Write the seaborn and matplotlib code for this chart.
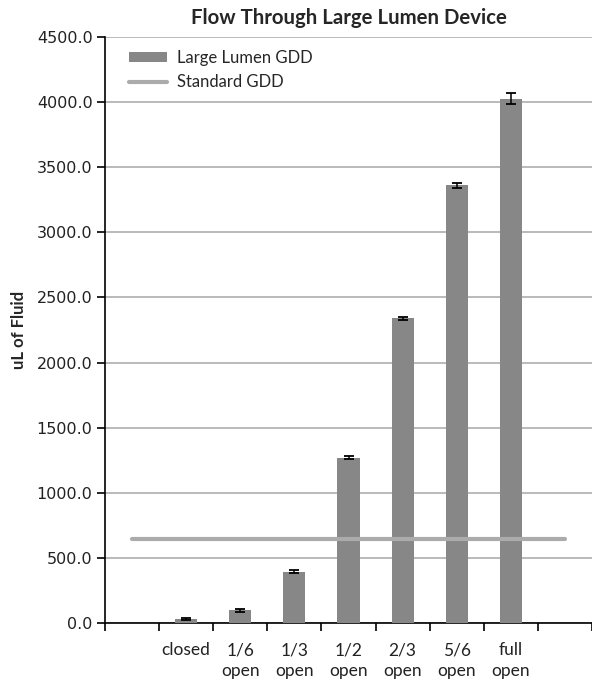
import numpy as np
import pandas as pd
import matplotlib
matplotlib.use("Agg")
import matplotlib.pyplot as plt
import seaborn as sns
from matplotlib.ticker import FixedLocator, MultipleLocator

OUTPUT_PATH = "out.png"

CATEGORIES = ["closed", "1/6\nopen", "1/3\nopen", "1/2\nopen",
              "2/3\nopen", "5/6\nopen", "full\nopen"]
# blank slots before and after the bars, as in the original sheet
ORDER = [" "] + CATEGORIES + ["  "]
LARGE_LUMEN = [28, 97, 395, 1270, 2340, 3360, 4025]
LARGE_LUMEN_ERR = [8, 10, 10, 10, 10, 20, 42]
STANDARD_GDD = 645

BAR_COLOR = "#878787"
LINE_COLOR = "#ababab"
GRID_COLOR = "#b4b4b4"


def main():
    sns.set_theme(style="white")
    plt.rcParams["font.family"] = ["Lato", "DejaVu Sans"]

    df = pd.DataFrame({"position": CATEGORIES, "flow": LARGE_LUMEN})

    fig = plt.figure(figsize=(5.92, 6.82), dpi=100)
    ax = fig.add_axes([0.1774, 0.0865, 0.8226, 0.8592])

    sns.barplot(data=df, x="position", y="flow", order=ORDER, color=BAR_COLOR,
                saturation=1, width=0.41, errorbar=None, linewidth=0, ax=ax,
                label="Large Lumen GDD", zorder=3)

    xs = [ORDER.index(c) for c in CATEGORIES]
    ax.errorbar(xs, LARGE_LUMEN, yerr=LARGE_LUMEN_ERR, fmt="none",
                ecolor="black", elinewidth=1.1, capsize=3.3, capthick=1.3,
                zorder=4)

    ax.plot([0, len(ORDER) - 1], [STANDARD_GDD, STANDARD_GDD],
            color=LINE_COLOR, lw=3, solid_capstyle="round",
            label="Standard GDD", zorder=5)

    ax.set_xlim(-0.5, len(ORDER) - 0.5)
    ax.set_ylim(0, 4500)
    ax.yaxis.set_major_locator(MultipleLocator(500))
    ax.set_yticklabels([f"{v:.1f}" for v in ax.get_yticks()],
                       fontsize=11.5, family="DejaVu Sans", color="#222222")
    ax.yaxis.grid(True, color=GRID_COLOR, lw=1.3, zorder=0)
    ax.set_axisbelow(True)

    ax.set_xticks(range(len(ORDER)))
    ax.set_xticklabels(ORDER, fontsize=12.5, color="#222222", linespacing=1.35,
                       va="top")
    ax.xaxis.set_minor_locator(FixedLocator(np.arange(-0.5, len(ORDER), 1)))
    ax.tick_params(axis="x", which="major", length=0, pad=14)
    ax.tick_params(axis="x", which="minor", length=6, width=1.2,
                   color="black", direction="out", bottom=True)
    ax.tick_params(axis="y", length=6, width=1.2, color="black",
                   direction="out", left=True, pad=3)

    for side in ["top", "right"]:
        ax.spines[side].set_visible(False)
    for side in ["left", "bottom"]:
        ax.spines[side].set_color("black")
        ax.spines[side].set_linewidth(1.2)

    ax.set_xlabel("")
    ax.set_ylabel("uL of Fluid", fontsize=12, fontweight="bold", labelpad=7)
    ax.set_title("Flow Through Large Lumen Device", fontsize=14.7,
                 fontweight="bold", pad=9.5)

    handles, labels = ax.get_legend_handles_labels()
    ax.legend(handles[::-1], labels[::-1], loc="upper left", frameon=False,
              fontsize=12, bbox_to_anchor=(0.049, 0.978), borderpad=0,
              borderaxespad=0, handlelength=2.3, handleheight=0.55,
              handletextpad=0.6, labelspacing=0.5)

    fig.savefig(OUTPUT_PATH, dpi=100)
    plt.close(fig)


if __name__ == "__main__":
    main()
